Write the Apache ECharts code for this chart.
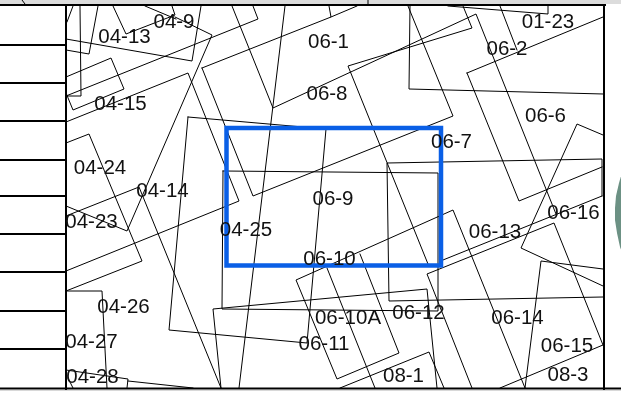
<!DOCTYPE html>
<html><head><meta charset="utf-8">
<script src="https://cdn.jsdelivr.net/npm/echarts@6/dist/echarts.min.js"></script>
<style>html,body{margin:0;padding:0;background:#fff}#c{width:621px;height:416px}</style>
</head><body><div id="c"></div>
<script>
const labelNames=["04-13","04-9","04-15","04-24","04-14","04-23","04-25","04-26","04-27","04-28","06-1","06-8","06-7","06-9","06-10","06-10A","06-11","06-12","06-13","06-14","06-15","06-16","06-6","06-2","01-23","08-1","08-3"];
const labelX=[124.5,174,120.5,100,162.5,91.5,246,123.5,91.5,92.5,328.5,327,451.5,333,329.5,348,324,418.5,495,517.5,567,573.5,545.5,507,548,403.5,568];
const labelY=[36,21,103,167,190,221,229,306,341,376,41,93,141,198,258,317,343,312,231,317,345,212,115,48,21,375,374];
const thinLines=[
 [[67,22],[73,6]],
 [[80,6],[81,96],[66,96]],
 [[98,6],[89,54],[66,50]],
 [[113,6],[126,34],[175,15],[172,6]],
 [[145,6],[176,19]],
 [[66,206],[127,231],[212,35],[175,17]],
 [[66,39],[192,61],[201,6]],
 [[66,96],[258,19],[253,6]],
 [[66,77],[111,58],[124,89],[73,110],[66,93]],
 [[66,122],[188,73],[239,201],[66,271]],
 [[66,291],[142,261],[89,134],[66,143]],
 [[66,216],[139,187],[221,388]],
 [[202,68],[253,196],[453,116],[408,6]],
 [[202,68],[331,17],[329,6]],
 [[331,17],[357,6]],
 [[188,117],[326,129],[307,343],[169,330],[188,117]],
 [[285,6],[239,388]],
 [[232,6],[273,108],[476,14],[556,214]],
 [[463,6],[472,28],[348,66],[428,264]],
 [[410,6],[409,89],[603,94]],
 [[500,6],[517,50]],
 [[448,6],[548,14],[548,6]],
 [[467,73],[603,17]],
 [[467,73],[519,201],[602,167]],
 [[602,196],[602,159],[387,163],[389,301],[603,297]],
 [[443,260],[602,196]],
 [[221,388],[213,309],[427,289],[437,388]],
 [[223,171],[438,173],[438,311],[222,309],[223,171]],
 [[603,135],[577,124],[521,248],[603,286]],
 [[603,345],[554,223],[427,274],[472,388]],
 [[603,269],[541,261],[525,388]],
 [[500,388],[603,345]],
 [[525,388],[453,210],[296,280],[337,379],[399,353],[360,254]],
 [[327,268],[375,388]],
 [[340,388],[429,352],[444,388]],
 [[66,291],[102,291],[107,388]],
 [[66,370],[128,379],[127,388]],
 [[128,381],[193,388]],
 [[68,378],[73,388]],
 [[22,0],[25,4]],
 [[368,0],[368,4]]
];
const frameLines=[
 [[0,5],[605,5]],[[0,388.5],[621,388.5]],[[66,5],[66,389]],[[604,5],[604,389]],
 [[0,45],[66,45]],[[0,83],[66,83]],[[0,121],[66,121]],[[0,160],[66,160]],[[0,196],[66,196]],
 [[0,234],[66,234]],[[0,272],[66,272]],[[0,311],[66,311]],[[0,349],[66,349]]
];
const blueBox=[[226.5,128],[441,128],[441,265.5],[226.5,265.5],[226.5,128]];
const greenArc=[[622,173],[619,183],[616,196],[615,208],[615,220],[617,233],[620,247],[622,252]];
const topStrip=[[0,0],[621,0],[621,4],[0,4]];
const bottomStrip=[[0,390],[621,390],[621,391],[0,391]];

const lineSeries=(pts,color,width)=>({type:'line',data:pts,showSymbol:false,symbol:'none',silent:true,animation:false,
  lineStyle:{color:color,width:width,join:'miter',cap:'square'},z:3});
const fillSeries=(pts,color)=>({type:'custom',data:pts,silent:true,animation:false,z:1,
  renderItem:(p,api)=>{ if(p.dataIndex!==0) return null;
    return {type:'polygon',shape:{points:pts.map(q=>api.coord(q))},style:{fill:color}}; }});

const chart=echarts.init(document.getElementById('c'),null,{renderer:'canvas'});
chart.setOption({
  animation:false,backgroundColor:'#fff',
  grid:{left:0,right:0,top:0,bottom:0},
  xAxis:{type:'value',min:0,max:621,show:false},
  yAxis:{type:'value',min:0,max:416,inverse:true,show:false},
  series:[
    fillSeries(topStrip,'#dcdcdc'),
    fillSeries(bottomStrip,'#d8d8d8'),
    fillSeries(greenArc,'#6c9184'),
    ...thinLines.map(l=>lineSeries(l,'#000',1)),
    ...frameLines.map(l=>lineSeries(l,'#000',2)),
    {...lineSeries(blueBox,'#0a5fe6',4.5),z:5},
    {type:'scatter',symbolSize:0,silent:true,animation:false,z:10,itemStyle:{opacity:1},
     data:labelNames.map((n,i)=>({name:n,value:[labelX[i],labelY[i]]})),
     label:{show:true,position:'inside',offset:[0,1],formatter:'{b}',color:'#111',opacity:1,fontFamily:'Liberation Sans',fontSize:20.5,align:'center',verticalAlign:'middle'}}
  ]
});
</script></body></html>
